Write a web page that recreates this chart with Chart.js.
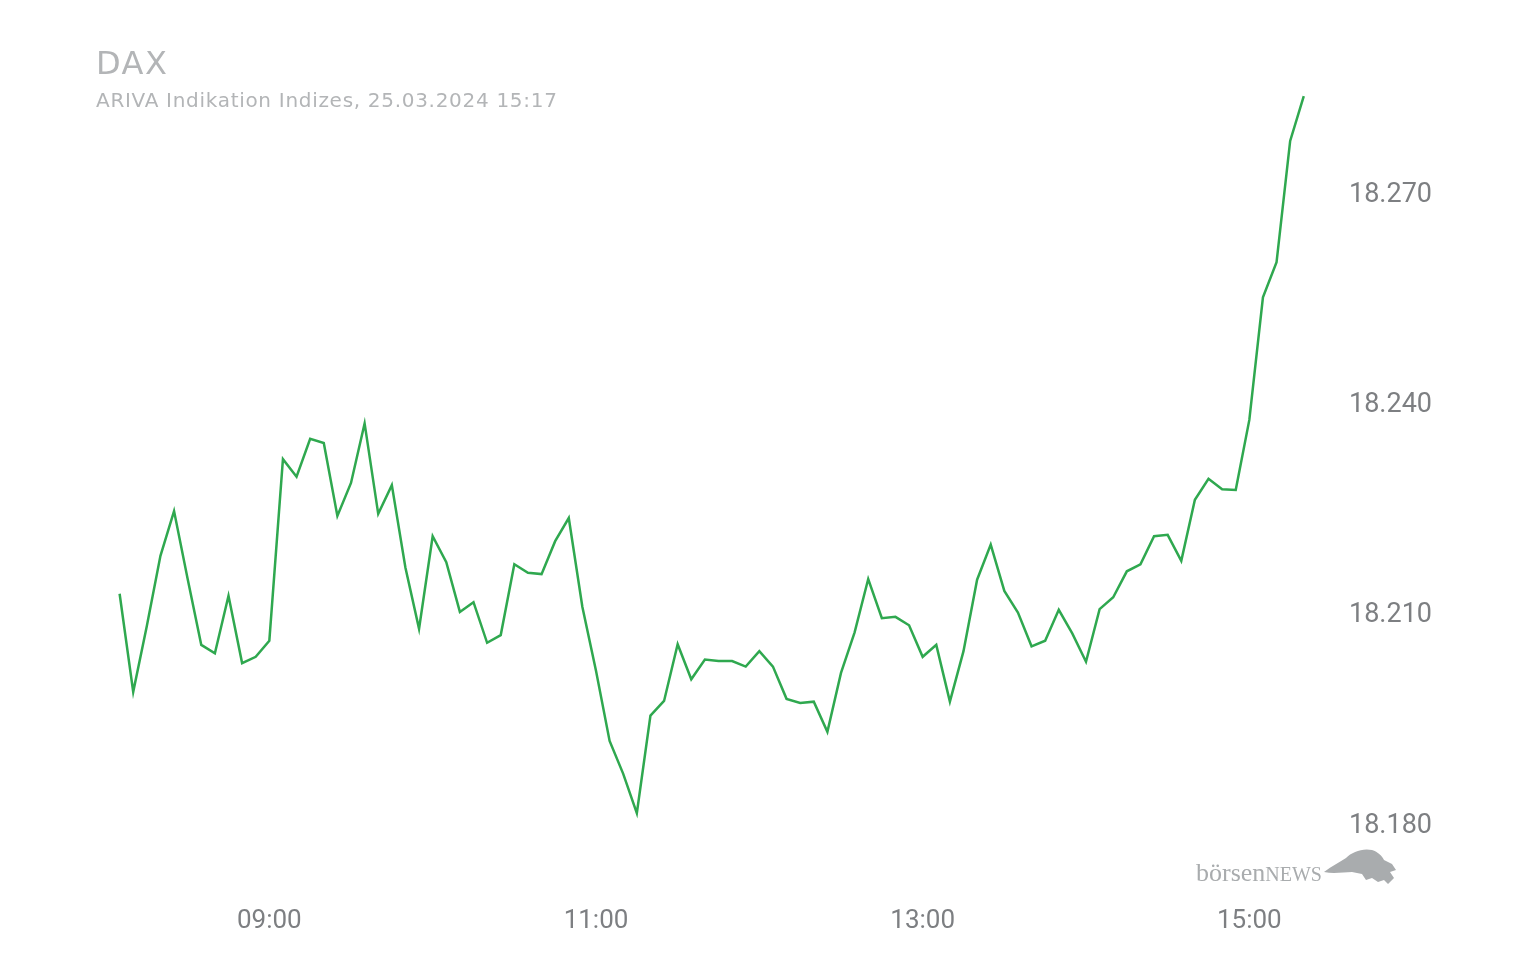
<!DOCTYPE html>
<html>
<head>
<meta charset="utf-8">
<script src="https://cdn.jsdelivr.net/npm/chart.js@4/dist/chart.umd.min.js"></script>
<style>
  body { margin: 0; background: #fff; }
  #wrap { position: relative; width: 1536px; height: 960px; }
  #title { position: absolute; left: 96px; top: 44px; font: 32px "DejaVu Sans", sans-serif; letter-spacing: 1.5px; color: #b3b5b7; }
  #sub { position: absolute; left: 96px; top: 88px; font: 20px "DejaVu Sans", sans-serif; letter-spacing: 0.7px; color: #b3b5b7; }
  #logo { position: absolute; left: 1196px; top: 858px; color: #a9acae; font-family: "Liberation Serif", serif; white-space: nowrap; }
  #logo .b { font-size: 26px; }
  #logo .n { font-size: 20px; }
</style>
</head>
<body>
<div id="wrap">
  <canvas id="myLineChart" width="1536" height="960"></canvas>
  <div id="title">DAX</div>
  <div id="sub">ARIVA Indikation Indizes, 25.03.2024 15:17</div>
  <div id="logo"><span class="b">börsen</span><span class="n">NEWS</span>
    <svg width="78" height="46" viewBox="0 0 78 46" style="position:absolute;left:126px;top:-12px">
      <path d="M2 26 C10 20 18 16 24 12 C30 6 40 2 50 4 C56 6 60 10 62 14 L70 18 L74 24 L68 26 L72 32 L66 38 L62 34 L56 36 L50 32 L44 34 L40 28 L30 26 C22 26 12 28 2 26 Z" fill="#a9acae"/>
    </svg>
  </div>
</div>
<script>
// 5-minute intraday points, 08:05 - 15:20 (minutes since midnight)
var startMinute = 485
var stepMinutes = 5

var daxValues = [
    18212.7, 18198.7, 18208.1, 18218.1, 18224.5, 18214.8, 18205.4, 18204.2, 18212.4, 18202.8,
    18203.7, 18206.0, 18231.9, 18229.4, 18234.8, 18234.2, 18223.8, 18228.5, 18237.0, 18224.1,
    18228.2, 18216.4, 18207.7, 18220.9, 18217.2, 18210.1, 18211.5, 18205.7, 18206.8, 18216.9,
    18215.7, 18215.5, 18220.2, 18223.5, 18210.8, 18201.7, 18191.7, 18187.0, 18181.4, 18195.3,
    18197.4, 18205.5, 18200.5, 18203.3, 18203.1, 18203.1, 18202.3, 18204.5, 18202.3, 18197.7,
    18197.1, 18197.3, 18193.0, 18201.4, 18207.2, 18214.8, 18209.2, 18209.4, 18208.2, 18203.7,
    18205.4, 18197.3, 18204.5, 18214.7, 18219.7, 18213.1, 18210.0, 18205.2, 18206.0, 18210.4,
    18207.0, 18203.0, 18210.5, 18212.2, 18215.9, 18216.9, 18220.9, 18221.1, 18217.4, 18226.1,
    18229.1, 18227.6, 18227.5, 18237.5, 18255.0, 18260.0, 18277.3, 18283.7
]

var xTicks = [540, 660, 780, 900]        // 09:00, 11:00, 13:00, 15:00
var yTicks = [18180, 18210, 18240, 18270]

var points = daxValues.map((v, i) => ({ x: startMinute + i * stepMinutes, y: v }))

function fmtTime(m) {
    var h = Math.floor(m / 60)
    var mm = m % 60
    return String(h).padStart(2, '0') + ':' + String(mm).padStart(2, '0')
}

var ctx = document.getElementById('myLineChart').getContext('2d');
var LineChart = new Chart(ctx, {
    type: 'line',
    data: {
        datasets: [{
            label: 'DAX',
            data: points,
            borderColor: '#2fa84f',
            borderWidth: 2.5,
            pointRadius: 0,
            tension: 0,
            fill: false
        }]
    },
    options: {
        responsive: false,
        animation: false,
        layout: { padding: { top: 87, left: 106, right: 85, bottom: 0 } },
        plugins: { legend: { display: false }, tooltip: { enabled: false } },
        scales: {
            x: {
                type: 'linear',
                min: 480,
                max: 930,
                grid: { display: false },
                border: { display: false },
                afterBuildTicks: s => { s.ticks = xTicks.map(v => ({ value: v })) },
                afterFit: s => { s.height = 67 },
                ticks: {
                    padding: 5,
                    color: '#7d7f82',
                    font: { family: 'Roboto', size: 26 },
                    callback: v => fmtTime(v)
                }
            },
            y: {
                position: 'right',
                min: 18170,
                max: 18285,
                grid: { display: false, drawTicks: false },
                border: { display: false },
                afterBuildTicks: s => { s.ticks = yTicks.map(v => ({ value: v })) },
                afterFit: s => { s.width = 120 },
                ticks: {
                    padding: 18,
                    labelOffset: 3,
                    color: '#7d7f82',
                    font: { family: 'Roboto', size: 27 },
                    callback: v => String(v).replace(/(\d{2})(\d{3})/, '$1.$2')
                }
            }
        }
    }
})
</script>
</body>
</html>
